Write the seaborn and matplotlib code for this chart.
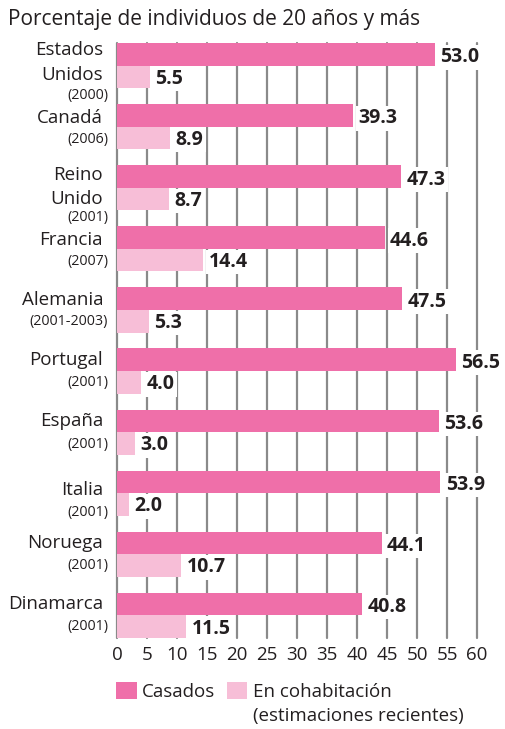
import matplotlib
matplotlib.use("Agg")
import matplotlib.pyplot as plt
import seaborn as sns
import pandas as pd
from matplotlib.patches import Patch

# --- data -------------------------------------------------------------
paises = ["Estados\nUnidos", "Canadá", "Reino\nUnido", "Francia", "Alemania",
          "Portugal", "España", "Italia", "Noruega", "Dinamarca"]
anios = ["(2000)", "(2006)", "(2001)", "(2007)", "(2001-2003)",
         "(2001)", "(2001)", "(2001)", "(2001)", "(2001)"]
casados = [53.0, 39.3, 47.3, 44.6, 47.5, 56.5, 53.6, 53.9, 44.1, 40.8]
cohabitacion = [5.5, 8.9, 8.7, 14.4, 5.3, 4.0, 3.0, 2.0, 10.7, 11.5]
series = ["Casados", "En cohabitación\n(estimaciones recientes)"]
ticks = list(range(0, 65, 5))
titulo = "Porcentaje de individuos de 20 años y más"

# --- layout -------------------------------------------------------------
W, H, DPI = 505, 729, 100
PX_UNIT = 61.1                     # pixels per category step
name_dy = [-3, -9, -1, -9, -10, -11, -11, -3, -11, -11]   # px offsets of names
year_dy = [30, 13, 30, 13, 12, 11, 12, 19, 11, 11]        # px offsets of years

C_CAS = "#ef6fa9"
C_COH = "#f7bed7"
C_TXT = "#231f20"
C_GRID = "#8a8a8a"

df = pd.concat([
    pd.DataFrame({"pais": paises, "valor": casados, "serie": series[0]}),
    pd.DataFrame({"pais": paises, "valor": cohabitacion, "serie": series[1]}),
])

sns.set_theme(style="white")
plt.rcParams["font.family"] = ["Open Sans", "DejaVu Sans"]

fig = plt.figure(figsize=(W / DPI, H / DPI), dpi=DPI)
ax = fig.add_axes([117 / W, 1 - 638 / H, 360 / W, 595 / H])

sns.barplot(data=df, x="valor", y="pais", hue="serie", orient="h",
            palette=[C_CAS, C_COH], width=0.74, saturation=1,
            linewidth=0, legend=False, ax=ax)

ax.set_xlim(0, 60)
ax.set_ylim(len(paises) - 1 + 0.37, -0.37)
ax.set_xticks(ticks)
ax.set_xticklabels([str(t) for t in ticks])
ax.set_yticks([])
ax.set_xlabel("")
ax.set_ylabel("")
ax.tick_params(axis="x", length=0, pad=6, labelsize=13.5, labelcolor=C_TXT)
for s in ax.spines.values():
    s.set_visible(False)

ax.set_axisbelow(True)
ax.xaxis.grid(True, color=C_GRID, linewidth=1.6)
for gl in ax.get_xgridlines():
    gl.set_clip_on(False)

# value labels
box = dict(boxstyle="square,pad=0.12", fc="white", ec="none")
half = 0.185
for i, (vc, vh) in enumerate(zip(casados, cohabitacion)):
    ax.text(vc + 0.9, i - half + 0.05, f"{vc:.1f}", ha="left", va="center",
            fontsize=14, fontweight="bold", color=C_TXT, bbox=box, zorder=5)
    ax.text(vh + 0.9, i + half + 0.03, f"{vh:.1f}", ha="left", va="center",
            fontsize=14, fontweight="bold", color=C_TXT, bbox=box, zorder=5)

# category labels (name + year)
tr = ax.get_yaxis_transform()
for i, (p, a) in enumerate(zip(paises, anios)):
    ax.text(-14 / 360, i + name_dy[i] / PX_UNIT, p, transform=tr,
            ha="right", va="center", fontsize=13.5, color=C_TXT,
            linespacing=1.45, clip_on=False)
    ax.text(-9 / 360, i + year_dy[i] / PX_UNIT, a, transform=tr,
            ha="right", va="center", fontsize=10.3, color=C_TXT, clip_on=False)

fig.text(8 / W, 1 - 20 / H, titulo, ha="left", va="center",
         fontsize=15, color=C_TXT)

# legend: first line of each label next to its swatch, second line below
handles = [Patch(facecolor=C_CAS, edgecolor="none"),
           Patch(facecolor=C_COH, edgecolor="none")]
first_lines = [s.split("\n")[0] for s in series]
leg = fig.legend(handles, first_lines, loc="upper left",
                 bbox_to_anchor=(116 / W, 1 - 682 / H), ncol=2, frameon=False,
                 fontsize=13.5, handlelength=1.1, handleheight=1.05,
                 handletextpad=0.3, columnspacing=0.6, borderaxespad=0,
                 borderpad=0, labelcolor=C_TXT)
fig.canvas.draw()
t2 = leg.get_texts()[1].get_window_extent()
x0 = fig.transFigure.inverted().transform((t2.x0, t2.y0))
fig.text(x0[0], 1 - 716 / H, series[1].split("\n")[1], ha="left",
         va="center", fontsize=13.5, color=C_TXT)

fig.savefig("out.png", dpi=DPI, facecolor="white")
